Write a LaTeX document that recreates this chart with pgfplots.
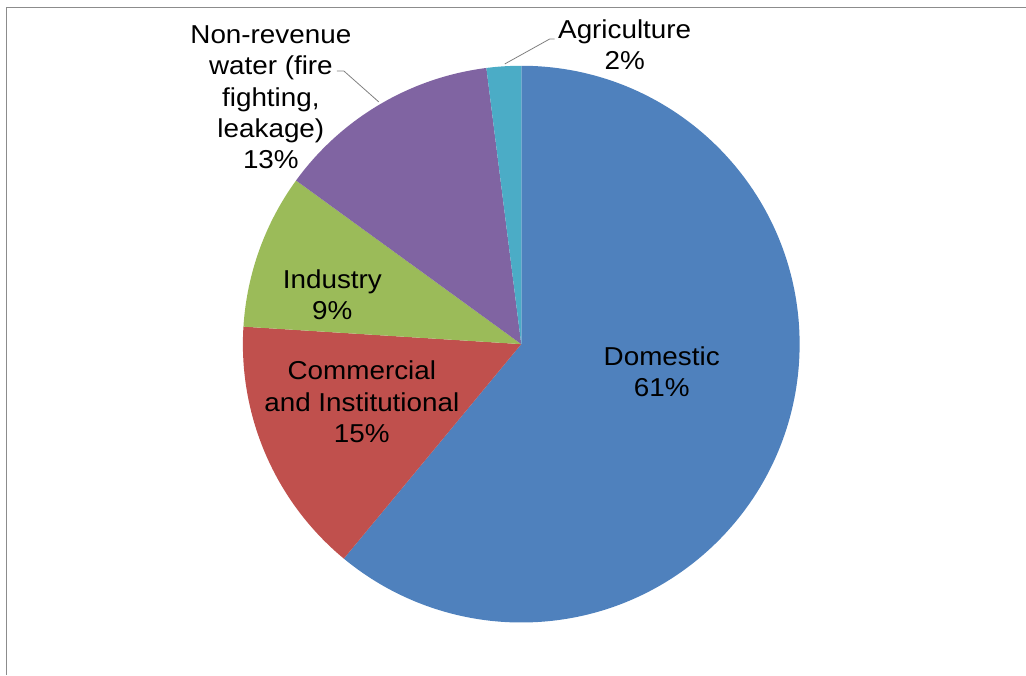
\documentclass[border=0pt]{standalone}
\usepackage{pgfplots}
\pgfplotsset{compat=1.18}
\usepackage{pgfplotstable}
\usepackage{fontspec}
\setmainfont{Liberation Sans}

\definecolor{domestic}{HTML}{4F81BD}
\definecolor{commercial}{HTML}{C0504D}
\definecolor{industry}{HTML}{9BBB59}
\definecolor{nonrev}{HTML}{8064A2}
\definecolor{agri}{HTML}{4BACC6}
\definecolor{frame}{HTML}{8C8C8C}

% share in percent, clockwise from 12 o'clock
\pgfplotstableread{
share colour
61 domestic
15 commercial
9 industry
13 nonrev
2 agri
}\sharetable

\newcommand\lbl[1]{\scalebox{1.075}[1]{\begin{tabular}{@{}c@{}}#1\end{tabular}}}

\begin{document}
\begin{tikzpicture}
\begin{axis}[
    scale only axis,
    width=513bp, height=337.5bp,
    xmin=0, xmax=1026, ymin=0, ymax=675,
    hide axis, clip=false,
    nodes={font=\fontsize{13}{15.75}\selectfont, inner sep=0pt},
]
% keep the whole chart area in the bounding box
\path (rel axis cs:0,0) rectangle (rel axis cs:1,1);
% frame of the chart area
\addplot[frame, line width=0.5bp] coordinates {(7,0) (7,667) (1026,667)};

% wedges
\pgfplotstablegetrowsof{\sharetable}
\pgfmathtruncatemacro\lastrow{\pgfplotsretval-1}
\def\curangle{90}
\pgfplotsforeachungrouped \i in {0,...,\lastrow}{
    \pgfplotstablegetelem{\i}{share}\of\sharetable
    \pgfmathsetmacro\nextangle{\curangle-3.6*\pgfplotsretval}
    \pgfplotstablegetelem{\i}{colour}\of\sharetable
    \edef\temp{\noexpand\fill[\pgfplotsretval] (axis cs:521.5,330.7) -- ++(\curangle:139.25bp)
        arc[start angle=\curangle, end angle=\nextangle, radius=139.25bp] -- cycle;}
    \temp
    \global\let\curangle\nextangle
}

% leader lines
\addplot[gray, line width=0.4bp] coordinates {(337,604) (344,604) (379,573)};
\addplot[gray, line width=0.4bp] coordinates {(555,636) (550,636) (505,611)};

% data labels
\node at (axis cs:662,300) {\lbl{Domestic\\61\%}};
\node at (axis cs:362,270) {\lbl{Commercial\\and Institutional\\15\%}};
\node at (axis cs:332.5,377) {\lbl{Industry\\9\%}};
\node at (axis cs:271,575) {\lbl{Non-revenue\\water (fire\\fighting,\\leakage)\\13\%}};
\node at (axis cs:625,627) {\lbl{Agriculture\\2\%}};
\end{axis}
\end{tikzpicture}
\end{document}
